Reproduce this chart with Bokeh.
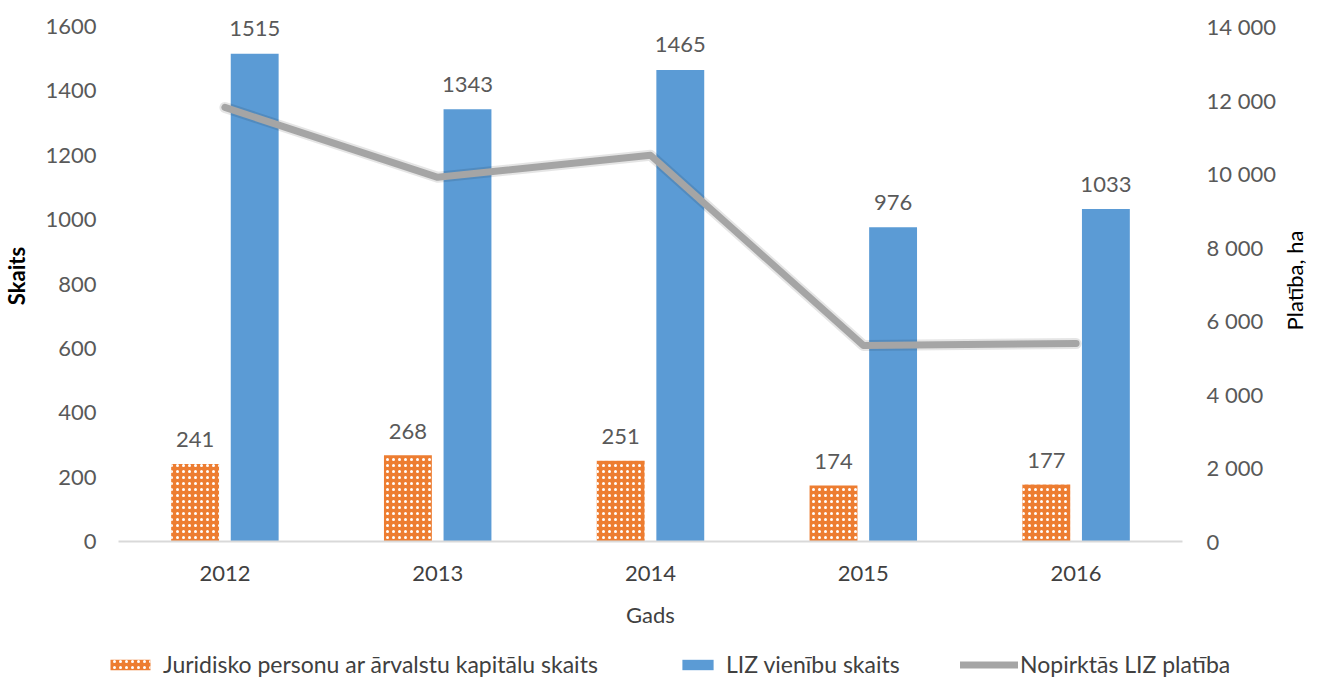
import math
from bokeh.plotting import figure
from bokeh.layouts import column, row
from bokeh.models import (FactorRange, Range1d, LinearAxis, FixedTicker,
                          ColumnDataSource, Legend, LegendItem, Label)
from bokeh.transform import dodge
from bokeh.core.properties import value
from bokeh.embed import file_html
from bokeh.resources import INLINE

# ---------------- data ----------------
years = ["2012", "2013", "2014", "2015", "2016"]
legal_entities = [241, 268, 251, 174, 177]          # Juridisko personu ar ārvalstu kapitālu skaits
liz_units = [1515, 1343, 1465, 976, 1033]           # LIZ vienību skaits
area_ha = [11800, 9900, 10500, 5330, 5380]          # Nopirktās LIZ platība, ha
left_ticks = [0, 200, 400, 600, 800, 1000, 1200, 1400, 1600]
right_ticks = [0, 2000, 4000, 6000, 8000, 10000, 12000, 14000]
right_tick_labels = ["0", "2 000", "4 000", "6 000", "8 000", "10 000", "12 000", "14 000"]
series_names = ["Juridisko personu ar ārvalstu kapitālu skaits",
                "LIZ vienību skaits", "Nopirktās LIZ platība"]
right_title = "Platība, ha"

# ---------------- layout ----------------
W_TOTAL, H_TOTAL = 1306, 681
W1 = 1278                          # main chart width
W3 = W_TOTAL - W1                  # strip holding the right axis title
H1 = 646                           # main chart height
H2 = H_TOTAL - H1                  # legend strip height
FR_TOP, FR_BOT = 10, 541           # frame top / bottom (figure px)
TOP_TICK_PX = 26                   # pixel where the top tick must sit
span = (FR_BOT - FR_TOP) / (FR_BOT - TOP_TICK_PX)
left_max = left_ticks[-1] * span
right_max = right_ticks[-1] * span

FONT = value("Lato")
ORANGE, BLUE, GRAY = "#ED7D31", "#5B9BD5", "#A5A5A5"


def no_align(fig):
    try:
        fig.frame_align = False
    except Exception:
        pass


src = ColumnDataSource(dict(
    year=years, legal=legal_entities, units=liz_units, area=area_ha,
    legal_lbl=[str(v) for v in legal_entities],
    units_lbl=[str(v) for v in liz_units],
))

p = figure(width=W1, height=H1, x_range=FactorRange(factors=years),
           y_range=Range1d(0, left_max), output_backend="svg",
           toolbar_location=None,
           min_border_left=111, min_border_right=94,
           min_border_top=FR_TOP, min_border_bottom=H1 - FR_BOT)
no_align(p)
p.extra_y_ranges = {"area": Range1d(0, right_max)}
p.outline_line_color = None
p.xgrid.visible = False
p.ygrid.visible = False
p.background_fill_color = "white"
p.border_fill_color = "white"

bar_kw_o = dict(fill_color=ORANGE, line_color=None, hatch_pattern="dot",
                hatch_color="white", hatch_scale=6, hatch_weight=3)
bar_kw_b = dict(fill_color=BLUE, line_color=None)
line_kw = dict(line_color=GRAY, line_width=7, line_join="round", line_cap="round")

# bars
p.vbar(x=dodge("year", -0.14, range=p.x_range), top="legal", width=0.225,
       source=src, **bar_kw_o)
p.vbar(x=dodge("year", 0.14, range=p.x_range), top="units", width=0.225,
       source=src, **bar_kw_b)

# line (with faint shadow halo)
p.line(x="year", y="area", source=src, y_range_name="area",
       line_color="black", line_alpha=0.10, line_width=11,
       line_join="round", line_cap="round")
p.line(x="year", y="area", source=src, y_range_name="area", **line_kw)

# data labels
p.text(x=dodge("year", -0.14, range=p.x_range), y="legal", text="legal_lbl", source=src,
       text_align="center", text_baseline="middle", y_offset=-24,
       text_font=FONT, text_font_size="22px", text_color="#595959")
p.text(x=dodge("year", 0.14, range=p.x_range), y="units", text="units_lbl", source=src,
       text_align="center", text_baseline="middle", y_offset=-25,
       text_font=FONT, text_font_size="22px", text_color="#595959")

# x axis
xa = p.xaxis[0]
xa.axis_line_color = "#D9D9D9"
xa.axis_line_width = 2
xa.major_tick_line_color = None
xa.major_tick_out = 0
xa.major_tick_in = 0
xa.minor_tick_line_color = None
xa.major_label_text_font = "Lato"
xa.major_label_text_font_size = "22px"
xa.major_label_text_color = "#404040"
xa.major_label_standoff = 24
xa.axis_label = "Gads"
xa.axis_label_text_font = "Lato"
xa.axis_label_text_font_size = "22px"
xa.axis_label_text_font_style = "normal"
xa.axis_label_text_color = "#404040"
xa.axis_label_standoff = 17

# left axis
ya = p.yaxis[0]
ya.ticker = FixedTicker(ticks=left_ticks)
ya.axis_line_color = None
ya.major_tick_line_color = None
ya.major_tick_out = 0
ya.major_tick_in = 0
ya.minor_tick_line_color = None
ya.major_label_text_font = "Lato"
ya.major_label_text_font_size = "22px"
ya.major_label_text_color = "#595959"
ya.major_label_standoff = 22
ya.axis_label = "Skaits"
ya.axis_label_text_font = "Lato"
ya.axis_label_text_font_size = "22px"
ya.axis_label_text_font_style = "bold"
ya.axis_label_text_color = "#000000"
ya.axis_label_standoff = 12

# right axis (its title sits in the narrow strip to the right)
ra = LinearAxis(y_range_name="area", ticker=FixedTicker(ticks=right_ticks),
                major_label_overrides={t: l for t, l in zip(right_ticks, right_tick_labels)})
ra.axis_line_color = None
ra.major_tick_line_color = None
ra.major_tick_out = 0
ra.major_tick_in = 0
ra.minor_tick_line_color = None
ra.major_label_text_font = "Lato"
ra.major_label_text_font_size = "22px"
ra.major_label_text_color = "#595959"
ra.major_label_standoff = 24
p.add_layout(ra, "right")

# ---------------- legend strip ----------------
p2 = figure(width=W1, height=H2, x_range=FactorRange(factors=years),
            y_range=Range1d(0, 1), output_backend="svg", toolbar_location=None,
            min_border=0)
no_align(p2)
p2.axis.visible = False
p2.grid.visible = False
p2.outline_line_color = None
p2.border_fill_color = "white"

lo = p2.vbar(x="year", top="legal", width=0.2, source=src, visible=False, **bar_kw_o)
lb = p2.vbar(x="year", top="units", width=0.2, source=src, visible=False, **bar_kw_b)
lg = p2.line(x="year", y="area", source=src, visible=False, **line_kw)


def add_legend(label, renderer, x, gw, standoff):
    leg = Legend(items=[LegendItem(label=label, renderers=[renderer])],
                 location=(x, 3), orientation="horizontal",
                 padding=0, margin=0, border_line_color=None,
                 background_fill_alpha=0, inactive_fill_alpha=0,
                 glyph_width=gw, glyph_height=13,
                 label_height=23, label_standoff=standoff,
                 label_text_font="Lato", label_text_font_size="23px",
                 label_text_color="#404040")
    p2.add_layout(leg, "center")


add_legend(series_names[0], lo, 105, 50, 8)
add_legend(series_names[1], lb, 678, 39, 9)
add_legend(series_names[2], lg, 960, 58, 2)

# ---------------- right title strip ----------------
p3 = figure(width=W3, height=H_TOTAL, x_range=Range1d(0, W3), y_range=Range1d(0, H_TOTAL),
            output_backend="svg", toolbar_location=None, min_border=0)
no_align(p3)
p3.axis.visible = False
p3.grid.visible = False
p3.outline_line_color = None
p3.border_fill_color = "white"
p3.add_layout(Label(x=W3 / 2 + 2, y=H_TOTAL - 280, text=right_title, angle=math.pi / 2,
                    text_align="center", text_baseline="middle",
                    text_font="Lato", text_font_size="22px", text_color="#000000"))

layout = row(column(p, p2, spacing=0), p3, spacing=0)
open("out.html", "w").write(file_html(layout, INLINE))
